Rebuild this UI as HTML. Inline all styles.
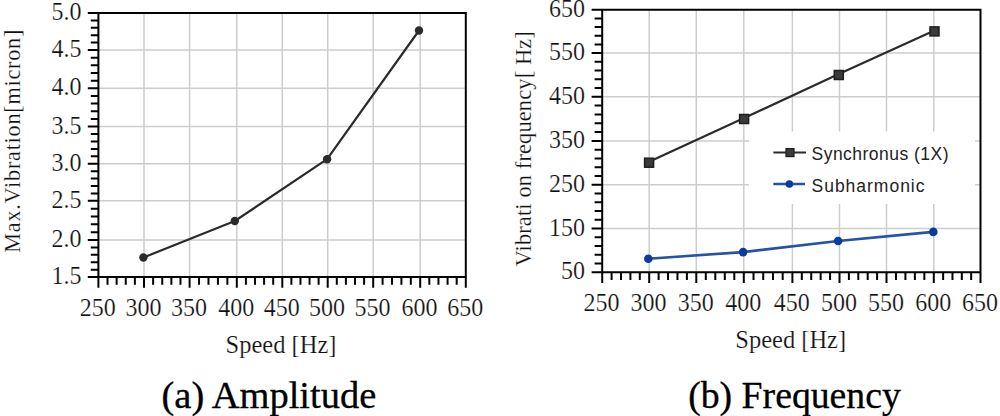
<!DOCTYPE html>
<html><head><meta charset="utf-8"><style>
html,body{margin:0;padding:0;background:#fff;width:1000px;height:416px;overflow:hidden}
svg{display:block}
</style></head><body>
<svg width="1000" height="416" viewBox="0 0 1000 416">
<rect width="1000" height="416" fill="#fff"/>
<line x1="144" y1="13" x2="144" y2="277.1" stroke="#cdcdcd" stroke-width="1.5"/>
<line x1="189.6" y1="13" x2="189.6" y2="277.1" stroke="#cdcdcd" stroke-width="1.5"/>
<line x1="236.8" y1="13" x2="236.8" y2="277.1" stroke="#cdcdcd" stroke-width="1.5"/>
<line x1="282.3" y1="13" x2="282.3" y2="277.1" stroke="#cdcdcd" stroke-width="1.5"/>
<line x1="327.7" y1="13" x2="327.7" y2="277.1" stroke="#cdcdcd" stroke-width="1.5"/>
<line x1="373.2" y1="13" x2="373.2" y2="277.1" stroke="#cdcdcd" stroke-width="1.5"/>
<line x1="420.2" y1="13" x2="420.2" y2="277.1" stroke="#cdcdcd" stroke-width="1.5"/>
<line x1="98.4" y1="240" x2="465.8" y2="240" stroke="#cdcdcd" stroke-width="1.5"/>
<line x1="98.4" y1="200.8" x2="465.8" y2="200.8" stroke="#cdcdcd" stroke-width="1.5"/>
<line x1="98.4" y1="163.8" x2="465.8" y2="163.8" stroke="#cdcdcd" stroke-width="1.5"/>
<line x1="98.4" y1="126.6" x2="465.8" y2="126.6" stroke="#cdcdcd" stroke-width="1.5"/>
<line x1="98.4" y1="88.3" x2="465.8" y2="88.3" stroke="#cdcdcd" stroke-width="1.5"/>
<line x1="98.4" y1="50" x2="465.8" y2="50" stroke="#cdcdcd" stroke-width="1.5"/>
<line x1="649.2" y1="9.7" x2="649.2" y2="272.3" stroke="#cdcdcd" stroke-width="1.5"/>
<line x1="696.3" y1="9.7" x2="696.3" y2="272.3" stroke="#cdcdcd" stroke-width="1.5"/>
<line x1="743.8" y1="9.7" x2="743.8" y2="272.3" stroke="#cdcdcd" stroke-width="1.5"/>
<line x1="792.4" y1="9.7" x2="792.4" y2="272.3" stroke="#cdcdcd" stroke-width="1.5"/>
<line x1="839.5" y1="9.7" x2="839.5" y2="272.3" stroke="#cdcdcd" stroke-width="1.5"/>
<line x1="886.5" y1="9.7" x2="886.5" y2="272.3" stroke="#cdcdcd" stroke-width="1.5"/>
<line x1="933.8" y1="9.7" x2="933.8" y2="272.3" stroke="#cdcdcd" stroke-width="1.5"/>
<line x1="602.2" y1="228.6" x2="980.5" y2="228.6" stroke="#cdcdcd" stroke-width="1.5"/>
<line x1="602.2" y1="184.8" x2="980.5" y2="184.8" stroke="#cdcdcd" stroke-width="1.5"/>
<line x1="602.2" y1="140.9" x2="980.5" y2="140.9" stroke="#cdcdcd" stroke-width="1.5"/>
<line x1="602.2" y1="96.8" x2="980.5" y2="96.8" stroke="#cdcdcd" stroke-width="1.5"/>
<line x1="602.2" y1="53.1" x2="980.5" y2="53.1" stroke="#cdcdcd" stroke-width="1.5"/>
<rect x="749" y="131.5" width="226" height="72.5" fill="#fff"/>
<path d="M98.4 13H465.8V277.1H98.4ZM98.4 277.1V287.7M107.52 277.1V284.7M116.64 277.1V284.7M125.76 277.1V284.7M134.88 277.1V284.7M144 277.1V287.7M153.12 277.1V284.7M162.24 277.1V284.7M171.36 277.1V284.7M180.48 277.1V284.7M189.6 277.1V287.7M199.04 277.1V284.7M208.48 277.1V284.7M217.92 277.1V284.7M227.36 277.1V284.7M236.8 277.1V287.7M245.9 277.1V284.7M255 277.1V284.7M264.1 277.1V284.7M273.2 277.1V284.7M282.3 277.1V287.7M291.38 277.1V284.7M300.46 277.1V284.7M309.54 277.1V284.7M318.62 277.1V284.7M327.7 277.1V287.7M336.8 277.1V284.7M345.9 277.1V284.7M355 277.1V284.7M364.1 277.1V284.7M373.2 277.1V287.7M382.6 277.1V284.7M392 277.1V284.7M401.4 277.1V284.7M410.8 277.1V284.7M420.2 277.1V287.7M429.32 277.1V284.7M438.44 277.1V284.7M447.56 277.1V284.7M456.68 277.1V284.7M465.8 277.1V287.7M98.4 277.1H87.8M98.4 269.68H90.8M98.4 262.26H90.8M98.4 254.84H90.8M98.4 247.42H90.8M98.4 240H87.8M98.4 232.16H90.8M98.4 224.32H90.8M98.4 216.48H90.8M98.4 208.64H90.8M98.4 200.8H87.8M98.4 193.4H90.8M98.4 186H90.8M98.4 178.6H90.8M98.4 171.2H90.8M98.4 163.8H87.8M98.4 156.36H90.8M98.4 148.92H90.8M98.4 141.48H90.8M98.4 134.04H90.8M98.4 126.6H87.8M98.4 118.94H90.8M98.4 111.28H90.8M98.4 103.62H90.8M98.4 95.96H90.8M98.4 88.3H87.8M98.4 80.64H90.8M98.4 72.98H90.8M98.4 65.32H90.8M98.4 57.66H90.8M98.4 50H87.8M98.4 42.6H90.8M98.4 35.2H90.8M98.4 27.8H90.8M98.4 20.4H90.8M98.4 13H87.8" fill="none" stroke="#000" stroke-width="2" stroke-linecap="butt"/>
<path d="M602.2 9.7H980.5V272.3H602.2ZM602.2 272.3V282.9M611.6 272.3V279.9M621 272.3V279.9M630.4 272.3V279.9M639.8 272.3V279.9M649.2 272.3V282.9M658.62 272.3V279.9M668.04 272.3V279.9M677.46 272.3V279.9M686.88 272.3V279.9M696.3 272.3V282.9M705.8 272.3V279.9M715.3 272.3V279.9M724.8 272.3V279.9M734.3 272.3V279.9M743.8 272.3V282.9M753.52 272.3V279.9M763.24 272.3V279.9M772.96 272.3V279.9M782.68 272.3V279.9M792.4 272.3V282.9M801.82 272.3V279.9M811.24 272.3V279.9M820.66 272.3V279.9M830.08 272.3V279.9M839.5 272.3V282.9M848.9 272.3V279.9M858.3 272.3V279.9M867.7 272.3V279.9M877.1 272.3V279.9M886.5 272.3V282.9M895.96 272.3V279.9M905.42 272.3V279.9M914.88 272.3V279.9M924.34 272.3V279.9M933.8 272.3V282.9M943.14 272.3V279.9M952.48 272.3V279.9M961.82 272.3V279.9M971.16 272.3V279.9M980.5 272.3V282.9M602.2 272.3H591.6M602.2 263.56H594.6M602.2 254.82H594.6M602.2 246.08H594.6M602.2 237.34H594.6M602.2 228.6H591.6M602.2 219.84H594.6M602.2 211.08H594.6M602.2 202.32H594.6M602.2 193.56H594.6M602.2 184.8H591.6M602.2 176.02H594.6M602.2 167.24H594.6M602.2 158.46H594.6M602.2 149.68H594.6M602.2 140.9H591.6M602.2 132.08H594.6M602.2 123.26H594.6M602.2 114.44H594.6M602.2 105.62H594.6M602.2 96.8H591.6M602.2 88.06H594.6M602.2 79.32H594.6M602.2 70.58H594.6M602.2 61.84H594.6M602.2 53.1H591.6M602.2 44.42H594.6M602.2 35.74H594.6M602.2 27.06H594.6M602.2 18.38H594.6M602.2 9.7H591.6" fill="none" stroke="#000" stroke-width="2" stroke-linecap="butt"/>
<text transform="translate(81.5,284) scale(1,1.06)" text-anchor="end" font-size="24" font-family="Liberation Serif" fill="#111" stroke="#fff" stroke-width="0.2" >1.5</text>
<text transform="translate(81.5,246.9) scale(1,1.06)" text-anchor="end" font-size="24" font-family="Liberation Serif" fill="#111" stroke="#fff" stroke-width="0.2" >2.0</text>
<text transform="translate(81.5,207.7) scale(1,1.06)" text-anchor="end" font-size="24" font-family="Liberation Serif" fill="#111" stroke="#fff" stroke-width="0.2" >2.5</text>
<text transform="translate(81.5,170.7) scale(1,1.06)" text-anchor="end" font-size="24" font-family="Liberation Serif" fill="#111" stroke="#fff" stroke-width="0.2" >3.0</text>
<text transform="translate(81.5,133.5) scale(1,1.06)" text-anchor="end" font-size="24" font-family="Liberation Serif" fill="#111" stroke="#fff" stroke-width="0.2" >3.5</text>
<text transform="translate(81.5,95.2) scale(1,1.06)" text-anchor="end" font-size="24" font-family="Liberation Serif" fill="#111" stroke="#fff" stroke-width="0.2" >4.0</text>
<text transform="translate(81.5,56.9) scale(1,1.06)" text-anchor="end" font-size="24" font-family="Liberation Serif" fill="#111" stroke="#fff" stroke-width="0.2" >4.5</text>
<text transform="translate(81.5,19.9) scale(1,1.06)" text-anchor="end" font-size="24" font-family="Liberation Serif" fill="#111" stroke="#fff" stroke-width="0.2" >5.0</text>
<text transform="translate(97.8,315.9) scale(1,1.06)" text-anchor="middle" font-size="24" font-family="Liberation Serif" fill="#111" stroke="#fff" stroke-width="0.2" >250</text>
<text transform="translate(143.4,315.9) scale(1,1.06)" text-anchor="middle" font-size="24" font-family="Liberation Serif" fill="#111" stroke="#fff" stroke-width="0.2" >300</text>
<text transform="translate(189,315.9) scale(1,1.06)" text-anchor="middle" font-size="24" font-family="Liberation Serif" fill="#111" stroke="#fff" stroke-width="0.2" >350</text>
<text transform="translate(236.2,315.9) scale(1,1.06)" text-anchor="middle" font-size="24" font-family="Liberation Serif" fill="#111" stroke="#fff" stroke-width="0.2" >400</text>
<text transform="translate(281.7,315.9) scale(1,1.06)" text-anchor="middle" font-size="24" font-family="Liberation Serif" fill="#111" stroke="#fff" stroke-width="0.2" >450</text>
<text transform="translate(327.1,315.9) scale(1,1.06)" text-anchor="middle" font-size="24" font-family="Liberation Serif" fill="#111" stroke="#fff" stroke-width="0.2" >500</text>
<text transform="translate(372.6,315.9) scale(1,1.06)" text-anchor="middle" font-size="24" font-family="Liberation Serif" fill="#111" stroke="#fff" stroke-width="0.2" >550</text>
<text transform="translate(419.6,315.9) scale(1,1.06)" text-anchor="middle" font-size="24" font-family="Liberation Serif" fill="#111" stroke="#fff" stroke-width="0.2" >600</text>
<text transform="translate(465.2,315.9) scale(1,1.06)" text-anchor="middle" font-size="24" font-family="Liberation Serif" fill="#111" stroke="#fff" stroke-width="0.2" >650</text>
<text transform="translate(585,279.2) scale(1,1.06)" text-anchor="end" font-size="24" font-family="Liberation Serif" fill="#111" stroke="#fff" stroke-width="0.2" >50</text>
<text transform="translate(585,235.5) scale(1,1.06)" text-anchor="end" font-size="24" font-family="Liberation Serif" fill="#111" stroke="#fff" stroke-width="0.2" >150</text>
<text transform="translate(585,191.7) scale(1,1.06)" text-anchor="end" font-size="24" font-family="Liberation Serif" fill="#111" stroke="#fff" stroke-width="0.2" >250</text>
<text transform="translate(585,147.8) scale(1,1.06)" text-anchor="end" font-size="24" font-family="Liberation Serif" fill="#111" stroke="#fff" stroke-width="0.2" >350</text>
<text transform="translate(585,103.7) scale(1,1.06)" text-anchor="end" font-size="24" font-family="Liberation Serif" fill="#111" stroke="#fff" stroke-width="0.2" >450</text>
<text transform="translate(585,60) scale(1,1.06)" text-anchor="end" font-size="24" font-family="Liberation Serif" fill="#111" stroke="#fff" stroke-width="0.2" >550</text>
<text transform="translate(585,16.6) scale(1,1.06)" text-anchor="end" font-size="24" font-family="Liberation Serif" fill="#111" stroke="#fff" stroke-width="0.2" >650</text>
<text transform="translate(601.6,310.9) scale(1,1.06)" text-anchor="middle" font-size="24" font-family="Liberation Serif" fill="#111" stroke="#fff" stroke-width="0.2" >250</text>
<text transform="translate(648.6,310.9) scale(1,1.06)" text-anchor="middle" font-size="24" font-family="Liberation Serif" fill="#111" stroke="#fff" stroke-width="0.2" >300</text>
<text transform="translate(695.7,310.9) scale(1,1.06)" text-anchor="middle" font-size="24" font-family="Liberation Serif" fill="#111" stroke="#fff" stroke-width="0.2" >350</text>
<text transform="translate(743.2,310.9) scale(1,1.06)" text-anchor="middle" font-size="24" font-family="Liberation Serif" fill="#111" stroke="#fff" stroke-width="0.2" >400</text>
<text transform="translate(791.8,310.9) scale(1,1.06)" text-anchor="middle" font-size="24" font-family="Liberation Serif" fill="#111" stroke="#fff" stroke-width="0.2" >450</text>
<text transform="translate(838.9,310.9) scale(1,1.06)" text-anchor="middle" font-size="24" font-family="Liberation Serif" fill="#111" stroke="#fff" stroke-width="0.2" >500</text>
<text transform="translate(885.9,310.9) scale(1,1.06)" text-anchor="middle" font-size="24" font-family="Liberation Serif" fill="#111" stroke="#fff" stroke-width="0.2" >550</text>
<text transform="translate(933.2,310.9) scale(1,1.06)" text-anchor="middle" font-size="24" font-family="Liberation Serif" fill="#111" stroke="#fff" stroke-width="0.2" >600</text>
<text transform="translate(979.9,310.9) scale(1,1.06)" text-anchor="middle" font-size="24" font-family="Liberation Serif" fill="#111" stroke="#fff" stroke-width="0.2" >650</text>
<text transform="translate(281,352.6)" text-anchor="middle" font-size="24.5" font-family="Liberation Serif" fill="#111" stroke="#fff" stroke-width="0.2" >Speed [Hz]</text>
<text transform="translate(790.7,347.6)" text-anchor="middle" font-size="24.5" font-family="Liberation Serif" fill="#111" stroke="#fff" stroke-width="0.2" >Speed [Hz]</text>
<text transform="translate(19.8,141.2) rotate(-90)" text-anchor="middle" font-size="22.2" font-family="Liberation Serif" fill="#111" stroke="#fff" stroke-width="0.2" textLength="223" lengthAdjust="spacing">Max.Vibration[micron]</text>
<text transform="translate(531.2,148.8) rotate(-90)" text-anchor="middle" font-size="22.4" font-family="Liberation Serif" fill="#111" stroke="#fff" stroke-width="0.2" textLength="235.3" lengthAdjust="spacing">Vibrati on frequency[ Hz]</text>
<text transform="translate(268.9,407.5) scale(1.04,1)" text-anchor="middle" font-size="37" font-family="Liberation Serif" fill="#000" stroke="#000" stroke-width="0.3" >(a) Amplitude</text>
<text transform="translate(794.5,407.5) scale(1.02,1)" text-anchor="middle" font-size="37" font-family="Liberation Serif" fill="#000" stroke="#000" stroke-width="0.3" >(b) Frequency</text>
<polyline points="143.4,257.5 234.8,221 327.1,159.2 419,30.5" fill="none" stroke="#2b2b2b" stroke-width="2.2" stroke-linejoin="round"/>
<circle cx="143.4" cy="257.5" r="4.2" fill="#2b2b2b"/>
<circle cx="234.8" cy="221" r="4.2" fill="#2b2b2b"/>
<circle cx="327.1" cy="159.2" r="4.2" fill="#2b2b2b"/>
<circle cx="419" cy="30.5" r="4.2" fill="#2b2b2b"/>
<polyline points="649.1,161.7 744.1,118 838.8,74 934.5,30.4" fill="none" stroke="#2b2b2b" stroke-width="2.2" stroke-linejoin="round"/>
<rect x="644.6" y="158.2" width="9" height="9" fill="#3a3a3a" stroke="#1e1e1e" stroke-width="1.5"/>
<rect x="739.6" y="114.5" width="9" height="9" fill="#3a3a3a" stroke="#1e1e1e" stroke-width="1.5"/>
<rect x="834.3" y="70.5" width="9" height="9" fill="#3a3a3a" stroke="#1e1e1e" stroke-width="1.5"/>
<rect x="930" y="26.9" width="9" height="9" fill="#3a3a3a" stroke="#1e1e1e" stroke-width="1.5"/>
<polyline points="648.3,258.75 743.1,252.1 838.1,241 933.3,231.9" fill="none" stroke="#2452a6" stroke-width="2.6" stroke-linejoin="round"/>
<circle cx="648.3" cy="258.75" r="4.3" fill="#0a3c9f"/>
<circle cx="743.1" cy="252.1" r="4.3" fill="#0a3c9f"/>
<circle cx="838.1" cy="241" r="4.3" fill="#0a3c9f"/>
<circle cx="933.3" cy="231.9" r="4.3" fill="#0a3c9f"/>
<line x1="773.4" y1="152.6" x2="806" y2="152.6" stroke="#2b2b2b" stroke-width="2"/>
<rect x="786" y="148.6" width="8" height="8" fill="#3a3a3a" stroke="#1e1e1e" stroke-width="1.2"/>
<line x1="773.4" y1="184" x2="805" y2="184" stroke="#2452a6" stroke-width="2.5"/>
<circle cx="789.4" cy="184" r="3.8" fill="#0a3c9f"/>
<text x="811.5" y="160" font-size="17.5" font-family="Liberation Sans" fill="#222" textLength="137" lengthAdjust="spacing">Synchronus (1X)</text>
<text x="811.5" y="192" font-size="17.5" font-family="Liberation Sans" fill="#222" textLength="113" lengthAdjust="spacing">Subharmonic</text>
</svg>
</body></html>
